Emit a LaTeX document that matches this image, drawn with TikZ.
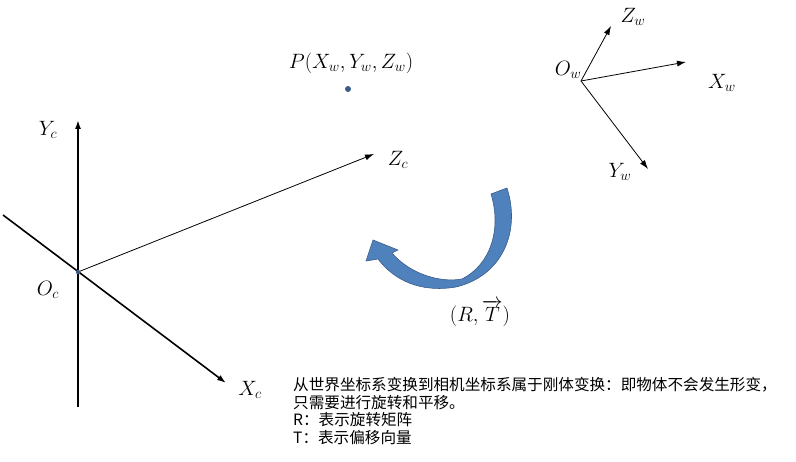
\documentclass[tikz,border=0pt]{standalone}
\usepackage{amsmath}
\usepackage{fontspec}
\newfontfamily\cjk{Noto Sans CJK SC}
\usepackage{xcolor}
\usetikzlibrary{arrows.meta, positioning}
\definecolor{arrowblue}{RGB}{79,129,189}
\definecolor{arrowedge}{RGB}{56,93,138}
\definecolor{dotblue}{RGB}{60,90,140}

\begin{document}
\begin{tikzpicture}[x=1pt, y=-1pt,
    axis/.style={line width=1.6pt, -{Latex[length=9pt, width=6pt]}},
    thinaxis/.style={line width=0.8pt, -{Latex[length=9pt, width=6pt]}},
    lbl/.style={font=\fontsize{22}{22}\selectfont, inner sep=0pt}]
  \useasboundingbox (0,0) rectangle (796,462);

  % camera frame
  \coordinate (Oc) at (78,272);
  \coordinate (YcTop) at (78,120);
  \coordinate (YcBot) at (78,407);
  \coordinate (XcStart) at (3,215);
  \coordinate (XcTip) at (226,383);
  \coordinate (ZcTip) at (374,154);
  \draw[axis] (YcBot) -- (YcTop);
  \draw[axis] (XcStart) -- (XcTip);
  \draw[thinaxis] (Oc) -- (ZcTip);
  \fill[dotblue] (Oc) circle (2.2pt);
  \node[lbl] (Yc) at (48,130) {$Y_c$};
  \node[lbl] (OcLabel) at (48,290) {$O_c$};
  \node[lbl] (Xc) at (250,390) {$X_c$};
  \node[lbl] (Zc) at (398,160) {$Z_c$};

  % point P
  \node[lbl] (P) at (351,63) {$P(X_w,Y_w,Z_w)$};
  \fill[dotblue] (348,89) circle (3pt);

  % world frame
  \coordinate (Ow) at (581,81);
  \coordinate (ZwTip) at (611,26);
  \coordinate (XwTip) at (686,62);
  \coordinate (YwTip) at (648,169);
  \draw[thinaxis] (Ow) -- (ZwTip);
  \draw[thinaxis] (Ow) -- (XwTip);
  \draw[thinaxis] (Ow) -- (YwTip);
  \node[lbl] (OwLabel) at (568,70) {$O_w$};
  \node[lbl] (Zw) at (633,17) {$Z_w$};
  \node[lbl] (Xw) at (722,83) {$X_w$};
  \node[lbl] (Yw) at (620,172) {$Y_w$};

  % rotation arrow
  \filldraw[fill=arrowblue, draw=arrowedge, line width=0.6pt]
    (491,194) -- (507,188)
    .. controls (521,232) and (502,276) .. (456,287)
    .. controls (420,293) and (394,280) .. (378,259)
    -- (366,261) -- (373,240) -- (398,250) -- (392,253)
    .. controls (410,274) and (440,283) .. (462,279)
    .. controls (490,265) and (502,230) .. cycle;
  \node[lbl] (RT) at (480,313) {$(R,\overrightarrow{T})$};

  % caption
  \node[anchor=north west, align=left, inner sep=0pt,
        font=\cjk\fontsize{15.6}{17.6}\selectfont] (note) at (293,377)
    {从世界坐标系变换到相机坐标系属于刚体变换：即物体不会发生形变，\\
     只需要进行旋转和平移。\\
     R：表示旋转矩阵\\
     T：表示偏移向量};
\end{tikzpicture}
\end{document}
